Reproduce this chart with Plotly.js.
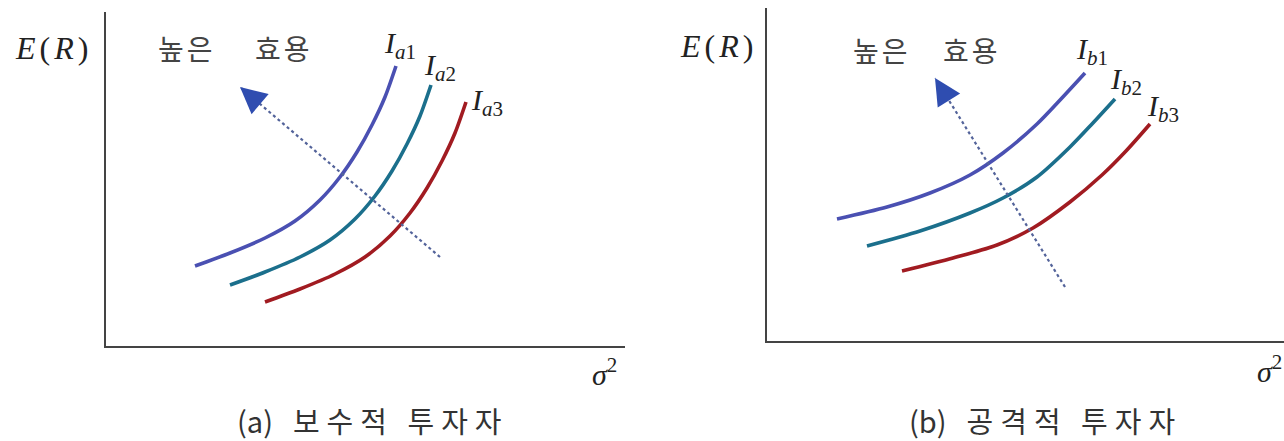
<!DOCTYPE html>
<html><head><meta charset="utf-8">
<script src="https://cdn.plot.ly/plotly-3.0.1.min.js"></script>
<style>html,body{margin:0;padding:0;background:#fff;} #chart{width:1284px;height:441px;}</style>
</head><body><div id="chart"></div>
<script>
// ---- Panel (a) 보수적 투자자 : indifference curves (x = σ², y = E(R)) ----
const aI1x = [8.9, 12.4, 15.9, 18.9, 21.4, 23.4, 25.1, 26.6, 27.9, 29.0];
const aI1y = [8.0, 9.3, 10.8, 12.5, 14.6, 16.9, 19.4, 22.1, 24.9, 28.0];
const aI2x = [12.4, 15.9, 19.4, 22.4, 24.9, 26.9, 28.6, 30.1, 31.4, 32.5];
const aI2y = [6.1, 7.4, 8.9, 10.6, 12.7, 15.0, 17.5, 20.2, 23.0, 26.1];
const aI3x = [15.9, 19.4, 22.9, 25.9, 28.4, 30.4, 32.1, 33.6, 34.9, 36.0];
const aI3y = [4.4, 5.7, 7.2, 8.9, 11.0, 13.3, 15.8, 18.5, 21.3, 24.4];
const aArrowX = [33.4, 13.4];   // tail, tip
const aArrowY = [8.9, 25.9];

// ---- Panel (b) 공격적 투자자 ----
const bI1x = [7.0, 12.0, 16.3, 20.3, 23.6, 27.0, 29.4, 31.8];
const bI1y = [12.2, 13.4, 14.8, 16.6, 18.8, 21.7, 24.2, 26.8];
const bI2x = [10.0, 15.3, 20.3, 23.6, 27.0, 30.3, 32.5, 34.8];
const bI2y = [9.5, 11.0, 12.8, 14.3, 16.4, 19.4, 21.7, 24.2];
const bI3x = [13.5, 18.6, 23.0, 26.6, 30.3, 33.5, 35.9, 38.3];
const bI3y = [7.0, 8.3, 9.6, 11.3, 13.9, 16.6, 19.0, 21.7];
const bArrowX = [29.8, 16.8];
const bArrowY = [5.4, 26.3];

const curveLabelsA = ['<i>I</i><sub><i>a</i>1</sub>', '<i>I</i><sub><i>a</i>2</sub>', '<i>I</i><sub><i>a</i>3</sub>'];
const curveLabelsB = ['<i>I</i><sub><i>b</i>1</sub>', '<i>I</i><sub><i>b</i>2</sub>', '<i>I</i><sub><i>b</i>3</sub>'];
const panelTags = ['(a)', '(b)'];
const panelTitles = ['보수적 투자자', '공격적 투자자'];
const yLabel = '<i>E</i>(<i>R</i>)';
const xLabel = '<i>σ</i><sup>2</sup>';
const utilWords = ['높은', '효용'];

const colors = ['#4a50b2', '#1b6f8c', '#a11b21'];
const W = 1284, H = 441;
const px = v => v / W, py = v => 1 - v / H;
const serif = 'Liberation Serif, DejaVu Serif, serif';
const cjk = 'Noto Sans CJK KR, sans-serif';

function curve(x, y, c, ax) {
  return {x, y, xaxis: ax[0], yaxis: ax[1], mode: 'lines', type: 'scatter',
    line: {color: c, width: 3.6, shape: 'spline', smoothing: 0.8}, hoverinfo: 'skip'};
}
function dashLine(x, y, ax) {
  return {x, y, xaxis: ax[0], yaxis: ax[1], mode: 'lines', type: 'scatter',
    line: {color: '#53639a', width: 2.2, dash: '3px,3px'}, hoverinfo: 'skip'};
}
const A = ['x', 'y'], B = ['x2', 'y2'];
const data = [
  curve(aI1x, aI1y, colors[0], A), curve(aI2x, aI2y, colors[1], A), curve(aI3x, aI3y, colors[2], A),
  dashLine(aArrowX, aArrowY, A),
  curve(bI1x, bI1y, colors[0], B), curve(bI2x, bI2y, colors[1], B), curve(bI3x, bI3y, colors[2], B),
  dashLine(bArrowX, bArrowY, B)
];

function head(xs, ys, xr, yr) {
  const f = 0.09;
  return {x: xs[1], y: ys[1], ax: xs[1] + (xs[0] - xs[1]) * f, ay: ys[1] + (ys[0] - ys[1]) * f,
    xref: xr, yref: yr, axref: xr, ayref: yr, showarrow: true, arrowhead: 2,
    arrowsize: 2.2, arrowwidth: 2.4, arrowcolor: '#2f4db0', text: ''};
}
function txt(text, x, y, font, size, color, xanchor) {
  return {text, x: px(x), y: py(y), xref: 'paper', yref: 'paper', showarrow: false,
    xanchor: xanchor || 'center', yanchor: 'middle', font: {family: font, size, color}};
}
const title = i => panelTags[i] + '\u00a0<span style="letter-spacing:7px">\u00a0' + panelTitles[i] + '</span>';

const ann = [
  head(aArrowX, aArrowY, 'x', 'y'), head(bArrowX, bArrowY, 'x2', 'y2'),
  txt(yLabel, 53, 48, serif, 32, '#222'), txt(yLabel, 718, 46, serif, 32, '#222'),
  txt(utilWords[0], 187, 48, cjk, 28, '#444'), txt(utilWords[1], 284, 48, cjk, 28, '#444'),
  txt(utilWords[0], 882, 50, cjk, 28, '#444'), txt(utilWords[1], 972, 50, cjk, 28, '#444'),
  txt(curveLabelsA[0], 400, 45, serif, 30, '#222'), txt(curveLabelsA[1], 440, 67, serif, 30, '#222'),
  txt(curveLabelsA[2], 487, 102, serif, 30, '#222'),
  txt(curveLabelsB[0], 1092, 51, serif, 30, '#222'), txt(curveLabelsB[1], 1126, 81, serif, 30, '#222'),
  txt(curveLabelsB[2], 1163, 108, serif, 30, '#222'),
  txt(xLabel, 604, 372, serif, 30, '#222'), txt(xLabel, 1284, 369, serif, 30, '#222', 'right'),
  txt(title(0), 373, 420, cjk, 29, '#333'), txt(title(1), 1045, 420, cjk, 29, '#333')
];

const axBase = {showgrid: false, zeroline: false, showticklabels: false, ticks: '',
  showline: true, linecolor: '#444', linewidth: 2, fixedrange: true};
const layout = {
  width: W, height: H, margin: {l: 0, r: 0, t: 0, b: 0}, autosize: false,
  paper_bgcolor: '#fff', plot_bgcolor: '#fff', showlegend: false,
  xaxis: Object.assign({}, axBase, {domain: [px(106), px(625)], range: [0, 51.9], anchor: 'y'}),
  yaxis: Object.assign({}, axBase, {domain: [py(346), py(12)], range: [0, 33.4], anchor: 'x'}),
  xaxis2: Object.assign({}, axBase, {domain: [px(767), 1], range: [0, 51.7], anchor: 'y2'}),
  yaxis2: Object.assign({}, axBase, {domain: [py(341), py(8)], range: [0, 33.3], anchor: 'x2'}),
  annotations: ann
};
Plotly.newPlot('chart', data, layout, {displayModeBar: false, staticPlot: true}).then(gd => {
  gd.querySelectorAll('.annotation-text').forEach(t => {
    const s = t.textContent;
    if (utilWords.indexOf(s) >= 0) t.style.letterSpacing = '3px';
    else if (s === 'E(R)') t.style.letterSpacing = '4px';
  });
});
</script></body></html>
